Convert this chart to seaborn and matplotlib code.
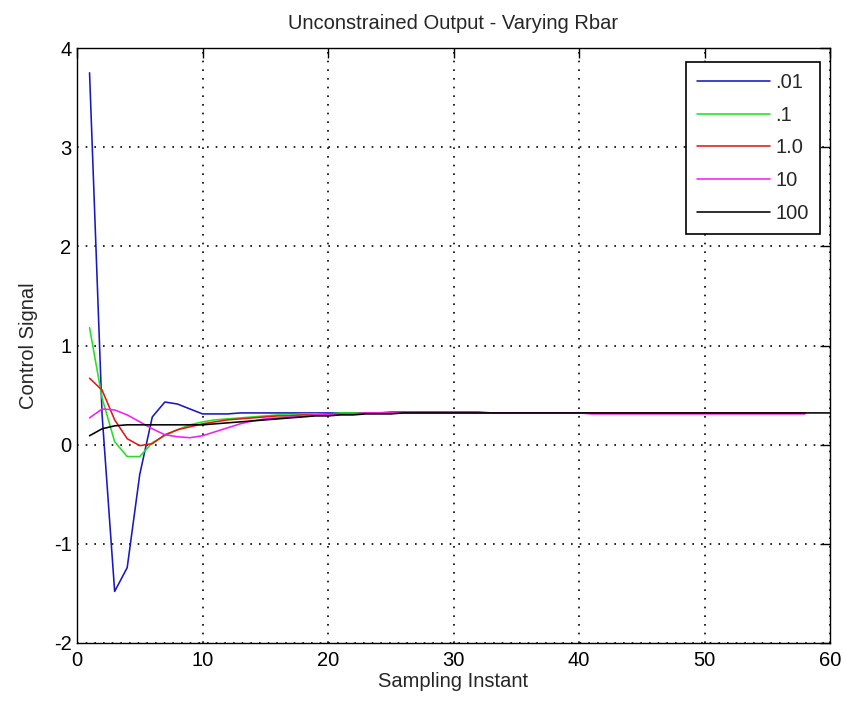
import numpy as np
import pandas as pd
import matplotlib
matplotlib.use("Agg")
import matplotlib.pyplot as plt
import seaborn as sns

# ---- data ----
labels = [".01", ".1", "1.0", "10", "100"]
colors = ["#1818c0", "#22e022", "#e01818", "#f020f0", "#000000"]

blue = [3.75, 0.30, -1.48, -1.24, -0.30, 0.28, 0.43, 0.41, 0.36, 0.31,
        0.31, 0.31, 0.32, 0.32, 0.32, 0.32, 0.32, 0.32, 0.32, 0.32,
        0.32, 0.32, 0.32, 0.32, 0.32, 0.32, 0.32, 0.32, 0.32, 0.32,
        0.32, 0.32, 0.32, 0.32, 0.32, 0.32, 0.32, 0.32, 0.32, 0.32,
        0.32, 0.32, 0.32, 0.32, 0.32, 0.32, 0.32, 0.32, 0.32, 0.32,
        0.32, 0.32, 0.32, 0.32, 0.32, 0.32, 0.32, 0.32]
green = [1.18, 0.47, 0.03, -0.12, -0.12, 0.02, 0.09, 0.15, 0.20, 0.23,
         0.25, 0.26, 0.27, 0.28, 0.29, 0.30, 0.30, 0.31, 0.31, 0.31,
         0.32, 0.32, 0.32, 0.32, 0.32, 0.32, 0.32, 0.32, 0.32, 0.32,
         0.32, 0.32, 0.32, 0.32, 0.32, 0.32, 0.32, 0.32, 0.32, 0.32,
         0.32, 0.32, 0.32, 0.32, 0.32, 0.32, 0.32, 0.32, 0.32, 0.32,
         0.32, 0.32, 0.32, 0.32, 0.32, 0.32, 0.32, 0.32]
red = [0.67, 0.55, 0.25, 0.06, -0.01, 0.01, 0.10, 0.15, 0.18, 0.21,
       0.23, 0.25, 0.26, 0.27, 0.28, 0.29, 0.29, 0.30, 0.30, 0.31,
       0.31, 0.31, 0.32, 0.32, 0.33, 0.33, 0.33, 0.33, 0.33, 0.33,
       0.33, 0.33, 0.32, 0.32, 0.32, 0.32, 0.32, 0.32, 0.32, 0.32,
       0.32, 0.32, 0.32, 0.32, 0.32, 0.32, 0.32, 0.32, 0.32, 0.32,
       0.32, 0.32, 0.32, 0.32, 0.32, 0.32, 0.32, 0.32]
magenta = [0.27, 0.36, 0.35, 0.30, 0.23, 0.16, 0.10, 0.08, 0.07, 0.09,
           0.13, 0.17, 0.21, 0.24, 0.26, 0.27, 0.28, 0.29, 0.30, 0.30,
           0.31, 0.31, 0.32, 0.32, 0.32, 0.32, 0.32, 0.32, 0.32, 0.32,
           0.32, 0.32, 0.32, 0.32, 0.32, 0.32, 0.32, 0.32, 0.32, 0.32,
           0.31, 0.31, 0.31, 0.31, 0.31, 0.31, 0.31, 0.31, 0.31, 0.31,
           0.31, 0.31, 0.31, 0.31, 0.31, 0.31, 0.31, 0.31]
black = [0.09, 0.16, 0.19, 0.20, 0.20, 0.20, 0.20, 0.20, 0.20, 0.20,
         0.21, 0.22, 0.23, 0.24, 0.25, 0.26, 0.27, 0.28, 0.29, 0.29,
         0.30, 0.30, 0.31, 0.31, 0.31, 0.32, 0.32, 0.32, 0.32, 0.32,
         0.32, 0.32, 0.32, 0.32, 0.32, 0.32, 0.32, 0.32, 0.32, 0.32,
         0.32, 0.32, 0.32, 0.32, 0.32, 0.32, 0.32, 0.32, 0.32, 0.32,
         0.32, 0.32, 0.32, 0.32, 0.32, 0.32, 0.32, 0.32, 0.32, 0.32]
series = [blue, green, red, magenta, black]

xticks = [0, 10, 20, 30, 40, 50, 60]
yticks = [-2, -1, 0, 1, 2, 3, 4]

rows = []
for lab, vals in zip(labels, series):
    for i, v in enumerate(vals):
        rows.append({"k": i + 1, "u": v, "Rbar": lab})
df = pd.DataFrame(rows)

# ---- style ----
sns.set_style("white")
plt.rcParams["font.family"] = ["Liberation Sans", "DejaVu Sans"]
FS = 14.5

fig = plt.figure(figsize=(8.44, 7.04), dpi=100)
ax = fig.add_axes([77 / 844, 1 - 643 / 704, (830 - 77) / 844, (643 - 48) / 704])

sns.lineplot(data=df, x="k", y="u", hue="Rbar", hue_order=labels,
             palette=dict(zip(labels, colors)), linewidth=1.15, ax=ax,
             estimator=None, sort=False)

ax.set_xlim(0, 60)
ax.set_ylim(-2, 4)
ax.set_xticks(xticks)
ax.set_yticks(yticks)
ax.set_xticklabels([str(t) for t in xticks], fontsize=FS)
ax.set_yticklabels([str(t) for t in yticks], fontsize=FS)
ax.grid(True, color="black", linestyle=(0, (1, 4.2)), linewidth=1.2)
ax.tick_params(direction="in", length=7, width=1, top=True, right=True,
               colors="black", pad=4)
ax.tick_params(axis="x", pad=6)
for s in ax.spines.values():
    s.set_visible(True)
    s.set_color("black")
    s.set_linewidth(1.0)

ax.set_xlabel("Sampling Instant", fontsize=FS, labelpad=1)
ax.set_ylabel("Control Signal", fontsize=FS, labelpad=11)
ax.set_title("Unconstrained Output - Varying Rbar", fontsize=FS, pad=14)

handles, labs = ax.get_legend_handles_labels()
leg = ax.legend(handles, labs, loc="upper right",
                bbox_to_anchor=((820 - 77) / 753, (643 - 62) / 595),
                fontsize=FS, frameon=True, fancybox=False, handlelength=3.6,
                labelspacing=0.68, borderpad=0.55, handletextpad=0.3,
                borderaxespad=0)
leg.get_frame().set_edgecolor("black")
leg.get_frame().set_linewidth(1.2)
leg.get_frame().set_alpha(1)

fig.savefig("out.png", dpi=100, facecolor="white")
